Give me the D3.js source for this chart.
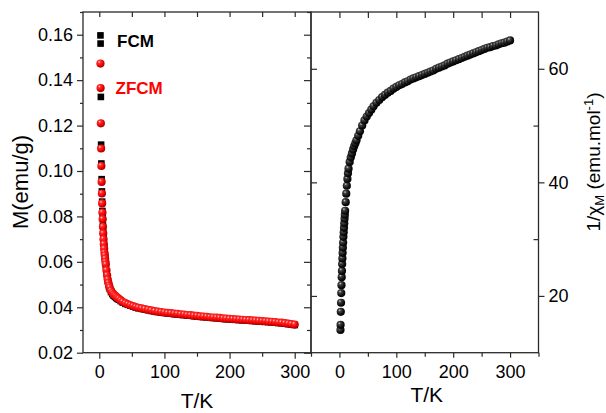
<!DOCTYPE html>
<html><head><meta charset="utf-8">
<script src="https://cdn.jsdelivr.net/npm/d3@7"></script>
<style>
html,body{margin:0;padding:0;background:#fff;}
svg{display:block;}
text{font-family:"Liberation Sans",Arial,sans-serif;}
</style></head>
<body><svg id="c" width="606" height="413"></svg>
<script>
// ---------- data ----------
const temps = [1.8,2.0,2.4,2.8,3.2,3.6,4.0,4.4,4.8,5.2,5.6,6.0,6.5,7.0,7.5,8.0,8.5,9.0,9.5,10,
 11,12,13,14,15,16,18,20,22,24,26,28,30,33,36,40,44,48,52,56,60,65,70,75,80,85,90,95,100,
 105,110,115,120,125,130,135,140,145,150,155,160,165,170,175,180,185,190,195,200,
 205,210,215,220,225,230,235,240,245,250,255,260,265,270,275,280,285,290,295,300];

const zfcm = [0.1473,0.1365,0.1210,0.1099,0.1022,0.0952,0.0901,0.0857,0.0817,0.0788,0.0754,0.0725,0.0700,0.0678,0.0658,0.0640,0.0628,0.0614,0.0600,0.0588,
 0.0563,0.0541,0.0522,0.0507,0.0495,0.0487,0.0473,0.0464,0.0457,0.0451,0.0446,0.0441,0.0437,0.0430,0.0424,0.0418,0.0413,0.0409,0.0405,0.0401,0.0398,0.0395,0.0392,0.0389,0.0386,0.0383,0.0381,0.0379,0.0377,
 0.0375,0.0374,0.0372,0.0371,0.0369,0.0368,0.0366,0.0365,0.0363,0.0362,0.0360,0.0359,0.0358,0.0356,0.0355,0.0354,0.0353,0.0351,0.0350,0.0349,
 0.0348,0.0347,0.0346,0.0345,0.0344,0.0343,0.0342,0.0341,0.0340,0.0339,0.0338,0.0337,0.0336,0.0335,0.0333,0.0332,0.0330,0.0328,0.0326,0.0324];

const fcm = [0.1597,0.1561,0.1326,0.1116,0.1033,0.0964,0.0910,0.0865,0.0824,0.0794,0.0760,0.0730,0.0703,0.0680,0.0659,0.0640,0.0626,0.0611,0.0597,0.0584,
 0.0558,0.0536,0.0517,0.0502,0.0490,0.0481,0.0467,0.0458,0.0451,0.0446,0.0441,0.0437,0.0433,0.0427,0.0421,0.0415,0.0411,0.0407,0.0403,0.0399,0.0396,0.0393,0.0390,0.0387,0.0384,0.0381,0.0379,0.0377,0.0375,
 0.0373,0.0372,0.0370,0.0369,0.0367,0.0366,0.0364,0.0363,0.0361,0.0360,0.0358,0.0357,0.0356,0.0354,0.0353,0.0352,0.0351,0.0349,0.0348,0.0347,
 0.0346,0.0345,0.0344,0.0343,0.0342,0.0341,0.0340,0.0339,0.0338,0.0337,0.0336,0.0335,0.0334,0.0333,0.0331,0.0330,0.0328,0.0326,0.0324,0.0322];

const invChi = [14.0,14.9,17.2,18.8,20.5,21.9,23.3,24.4,25.6,26.6,27.6,28.5,29.4,30.4,31.2,32.0,32.8,33.6,34.3,35.0,
 36.5,38.0,39.4,40.6,41.6,42.4,43.6,44.4,45.1,45.8,46.4,46.9,47.4,48.2,49.0,50.0,50.9,51.6,52.2,52.8,53.4,54.0,54.5,55.0,55.4,55.8,56.1,56.5,56.8,
 57.1,57.3,57.6,57.8,58.1,58.3,58.5,58.7,58.9,59.1,59.3,59.5,59.7,60.0,60.2,60.4,60.6,60.9,61.1,61.3,
 61.5,61.7,61.9,62.1,62.3,62.5,62.7,62.9,63.1,63.3,63.5,63.7,63.8,64.0,64.1,64.3,64.5,64.6,64.8,65.0];

const xTickLabels = [0,100,200,300];
const leftYTicks = [0.02,0.04,0.06,0.08,0.10,0.12,0.14,0.16];
const rightYTicks = [20,40,60];

// ---------- layout ----------
const svg = d3.select("#c");
const L = {x0:83, x1:311, y0:12, y1:352.7};
const R = {x0:311, x1:538.5, y0:12, y1:352.7};
const axisColor = "#2a2a2a";

const xL = d3.scaleLinear().domain([-25,325]).range([L.x0,L.x1]);
const yL = d3.scaleLinear().domain([0.02,0.17]).range([L.y1,L.y0]);
const xR = d3.scaleLinear().domain([-50,350]).range([R.x0,R.x1]);
const yR = d3.scaleLinear().domain([10,70]).range([R.y1,R.y0]);

// gradients
const defs = svg.append("defs");
function grad(id, stops){
  const g = defs.append("radialGradient").attr("id",id).attr("cx","38%").attr("cy","35%").attr("r","65%").attr("fx","35%").attr("fy","30%");
  stops.forEach(s=>g.append("stop").attr("offset",s[0]).attr("stop-color",s[1]));
}
grad("gRed",[["0%","#ffd8d8"],["25%","#ff3030"],["70%","#f00000"],["100%","#a00000"]]);
grad("gBlk",[["0%","#d0d0d0"],["25%","#444"],["70%","#111"],["100%","#000"]]);

function styleAxis(g){
  g.select(".domain").remove();
  g.selectAll("line").attr("stroke",axisColor).attr("stroke-width",1.2);
  g.selectAll("text").attr("fill","#000").style("font-size","18px").style("font-family",'"Liberation Sans",Arial,sans-serif');
}
function ticksFrom(a,b,s){const r=[];for(let v=a;v<=b+1e-9;v+=s)r.push(+v.toFixed(4));return r;}

// ----- Left panel axes -----
svg.append("g").attr("transform",`translate(${L.x0},0)`)
  .call(d3.axisLeft(yL).tickValues(leftYTicks).tickFormat(d3.format(".2f")).tickSize(6).tickPadding(4)).call(styleAxis);
svg.append("g").attr("transform",`translate(${L.x0},0)`)
  .call(d3.axisLeft(yL).tickValues(ticksFrom(0.03,0.17,0.02)).tickFormat("").tickSize(3)).call(styleAxis);
svg.append("g").attr("transform",`translate(${L.x1},0)`)
  .call(d3.axisRight(yL).tickValues(leftYTicks).tickFormat("").tickSize(-7)).call(styleAxis);
svg.append("g").attr("transform",`translate(${L.x1},0)`)
  .call(d3.axisRight(yL).tickValues(ticksFrom(0.03,0.17,0.02)).tickFormat("").tickSize(-4)).call(styleAxis);
svg.append("g").attr("transform",`translate(0,${L.y1})`)
  .call(d3.axisBottom(xL).tickValues(xTickLabels).tickSize(6).tickPadding(7)).call(styleAxis);
svg.append("g").attr("transform",`translate(0,${L.y1})`)
  .call(d3.axisBottom(xL).tickValues([50,150,250]).tickFormat("").tickSize(4)).call(styleAxis);
svg.append("g").attr("transform",`translate(0,${L.y0})`)
  .call(d3.axisTop(xL).tickValues(ticksFrom(0,300,50)).tickFormat("").tickSize(-5)).call(styleAxis);

// ----- Right panel axes -----
svg.append("g").attr("transform",`translate(${R.x1},0)`)
  .call(d3.axisRight(yR).tickValues(rightYTicks).tickSize(6).tickPadding(4)).call(styleAxis);
svg.append("g").attr("transform",`translate(${R.x1},0)`)
  .call(d3.axisRight(yR).tickValues([30,50]).tickFormat("").tickSize(-5)).call(styleAxis);
svg.append("g").attr("transform",`translate(${R.x0},0)`)
  .call(d3.axisLeft(yR).tickValues(rightYTicks).tickFormat("").tickSize(-6)).call(styleAxis);
svg.append("g").attr("transform",`translate(0,${R.y1})`)
  .call(d3.axisBottom(xR).tickValues(xTickLabels).tickSize(5).tickPadding(8)).call(styleAxis);
svg.append("g").attr("transform",`translate(0,${R.y1})`)
  .call(d3.axisBottom(xR).tickValues([-50,50,150,250,350]).tickFormat("").tickSize(4)).call(styleAxis);
svg.append("g").attr("transform",`translate(0,${R.y0})`)
  .call(d3.axisTop(xR).tickValues(ticksFrom(0,300,50)).tickFormat("").tickSize(-6)).call(styleAxis);

// frames
[L,R].forEach(p=>{
  svg.append("rect").attr("x",p.x0).attr("y",p.y0).attr("width",p.x1-p.x0).attr("height",p.y1-p.y0)
    .attr("fill","none").attr("stroke",axisColor).attr("stroke-width",1.3);
});

// ----- data marks -----
const fcmData = temps.map((t,i)=>({t, v:fcm[i]}));
const zData = temps.map((t,i)=>({t, v:zfcm[i]}));
const cData = temps.map((t,i)=>({t, v:invChi[i]}));
const sq = 6.6;
svg.append("g").selectAll("rect").data(fcmData).join("rect")
  .attr("x",d=>xL(d.t)-sq/2).attr("y",d=>yL(d.v)-sq/2).attr("width",sq).attr("height",sq).attr("fill","#000");
svg.append("g").selectAll("circle").data(zData).join("circle")
  .attr("cx",d=>xL(d.t)).attr("cy",d=>yL(d.v)).attr("r",4.1).attr("fill","url(#gRed)");
svg.append("g").selectAll("circle").data(cData).join("circle")
  .attr("cx",d=>xR(d.t)).attr("cy",d=>yR(d.v)).attr("r",4.1).attr("fill","url(#gBlk)");

// ----- legend text -----
svg.append("text").attr("x",117).attr("y",46.5).text("FCM").attr("fill","#000")
  .style("font-size","17px").style("font-weight","bold");
svg.append("text").attr("x",115.5).attr("y",94.3).text("ZFCM").attr("fill","#ff0000")
  .style("font-size","17px").style("font-weight","bold");

// ----- axis titles -----
svg.append("text").attr("x",(L.x0+L.x1)/2).attr("y",408).attr("text-anchor","middle")
  .style("font-size","21px").text("T/K");
svg.append("text").attr("x",(R.x0+R.x1)/2+2).attr("y",401.5).attr("text-anchor","middle")
  .style("font-size","21px").text("T/K");
svg.append("text").attr("transform","translate(28,182) rotate(-90)").attr("text-anchor","middle")
  .style("font-size","22px").text("M(emu/g)");
const rt = svg.append("text").attr("transform","translate(600,162) rotate(-90)").attr("text-anchor","middle")
  .style("font-size","19px");
rt.append("tspan").text("1/χ");
rt.append("tspan").attr("dy",4).style("font-size","13px").text("M");
rt.append("tspan").attr("dy",-4).text(" (emu.mol");
rt.append("tspan").attr("dy",-7).style("font-size","13px").text("-1");
rt.append("tspan").attr("dy",7).text(")");
</script></body></html>
